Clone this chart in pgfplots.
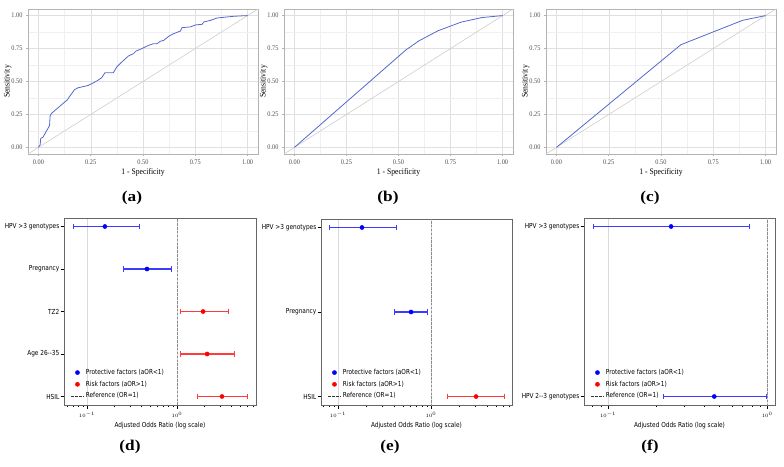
\documentclass[border=0pt]{standalone}
\usepackage{fontspec}
\usepackage{pgfplots}
\pgfplotsset{compat=1.18}
\setmainfont{Liberation Serif}
\newfontfamily\rocfont[FakeStretch=0.9]{Liberation Serif}
\newfontfamily\mplfont[FakeStretch=0.84]{DejaVu Sans}
\newfontfamily\panelfont[FakeStretch=1.15]{Liberation Serif}

\definecolor{roc}{RGB}{84,104,204}
\definecolor{diag}{RGB}{205,205,205}
\definecolor{ggborder}{RGB}{179,179,179}
\definecolor{gggrid}{RGB}{224,224,224}
\definecolor{ggminor}{RGB}{240,240,240}
\definecolor{ggtext}{RGB}{77,77,77}
\definecolor{protline}{RGB}{60,60,255}
\definecolor{riskline}{RGB}{255,60,60}
\definecolor{protmark}{RGB}{0,0,255}
\definecolor{riskmark}{RGB}{255,0,0}

% short legend samples: a centred mark, or a 12pt line
\pgfplotsset{
  legend image code/.code={\draw[mark repeat=2, mark phase=2, #1]
    plot coordinates {(0pt,0pt) (6pt,0pt) (12pt,0pt)};},
}

\pgfplotsset{
  rocaxis/.style={
    scale only axis, height=145pt,
    xmin=-0.05, xmax=1.05, ymin=-0.05, ymax=1.05,
    xtick={0,0.25,0.5,0.75,1}, ytick={0,0.25,0.5,0.75,1},
    minor xtick={0.125,0.375,0.625,0.875},
    minor ytick={0.125,0.375,0.625,0.875},
    grid=both,
    major grid style={gggrid, line width=0.45pt},
    minor grid style={ggminor, line width=0.3pt},
    axis line style={ggborder, line width=0.6pt},
    tick align=outside, tick pos=left,
    major tick length=2pt, minor tick length=0pt,
    tick style={ggborder, line width=0.5pt},
    /pgf/number format/assume math mode=true,
    /pgf/number format/fixed, /pgf/number format/fixed zerofill,
    /pgf/number format/precision=2,
    ticklabel style={font=\rocfont\fontsize{7}{8}\selectfont, text=ggtext},
    xlabel={1 - Specificity}, ylabel={Sensitivity},
    label style={font=\rocfont\fontsize{8.5}{9}\selectfont},
    xlabel style={yshift=3pt},
    ylabel style={yshift=-7pt},
  },
  oraxis/.style={
    scale only axis, y dir=reverse,
    xtick={0.1,1},
    minor xtick={0.02,0.03,0.04,0.05,0.06,0.07,0.08,0.09,0.2,0.3,0.4,0.5,0.6,0.7,0.8,0.9,2,3,4,5,6,7,8,9},
    tick align=outside, tick pos=left,
    major tick length=3.5pt, minor tick length=2pt,
    tick style={black, line width=0.5pt},
    axis line style={black!60, line width=0.6pt},
    xmajorgrids=true,
    major grid style={black!15, line width=0.5pt},
    yticklabel style={font=\mplfont\fontsize{6.9}{8}\selectfont, inner xsep=1pt},
    xticklabel style={font=\fontsize{5.5}{6}\selectfont},
    xlabel={Adjusted Odds Ratio (log scale)},
    xlabel style={font=\mplfont\fontsize{6.9}{8}\selectfont, yshift=2pt},
    legend style={at={(0.015,0.01)}, anchor=south west, draw=none, fill=none,
      font=\mplfont\fontsize{6.9}{8}\selectfont, row sep=1pt,
      inner xsep=4pt, inner ysep=1.5pt},
    legend cell align=left,
  },
  ci prot/.style={protline, line width=1.3pt, mark=|, mark size=2.8pt,
    mark options={line width=0.9pt}, forget plot},
  ci risk/.style={riskline, line width=1.3pt, mark=|, mark size=2.8pt,
    mark options={line width=0.9pt}, forget plot},
  est prot/.style={only marks, mark=*, protmark, mark size=2.1pt, forget plot},
  est risk/.style={only marks, mark=*, riskmark, mark size=2.1pt, forget plot},
  refline/.style={black!45, line width=0.8pt, dash pattern=on 2.6pt off 1.3pt, forget plot},
}

\newcommand{\orlegend}{%
  \addlegendimage{only marks, mark=*, protmark, mark size=2.1pt}
  \addlegendentry{Protective factors (aOR<1)}
  \addlegendimage{only marks, mark=*, riskmark, mark size=2.1pt}
  \addlegendentry{Risk factors (aOR>1)}
  \addlegendimage{black!80, line width=0.8pt, dash pattern=on 2.6pt off 1.3pt}
  \addlegendentry{Reference (OR=1)}%
}

\begin{document}
\begin{tikzpicture}
\useasboundingbox (0,0) rectangle (784pt,466pt);

% ---------- ROC curves ----------
\begin{axis}[rocaxis, at={(28pt,312pt)}, anchor=south west, width=230pt]
  \addplot[diag, line width=0.6pt] coordinates {(-0.05,-0.05) (1.05,1.05)};
  \addplot[roc, line width=0.8pt] coordinates {
    (0,0) (0.008,0.02) (0.011,0.069) (0.021,0.076) (0.053,0.165) (0.056,0.241)
    (0.063,0.259) (0.093,0.30) (0.125,0.343) (0.138,0.36) (0.146,0.38)
    (0.173,0.439) (0.189,0.452) (0.238,0.47) (0.278,0.503) (0.302,0.528)
    (0.318,0.566) (0.358,0.566) (0.374,0.609) (0.398,0.647) (0.43,0.693)
    (0.454,0.711) (0.467,0.731) (0.494,0.749) (0.526,0.774) (0.551,0.787)
    (0.567,0.787) (0.583,0.805) (0.599,0.812) (0.623,0.843) (0.647,0.863)
    (0.679,0.883) (0.687,0.909) (0.727,0.914) (0.751,0.929) (0.783,0.934)
    (0.791,0.952) (0.823,0.964) (0.855,0.982) (0.936,0.995) (1,1)};
\end{axis}

\begin{axis}[rocaxis, at={(284pt,312pt)}, anchor=south west, width=229pt]
  \addplot[diag, line width=0.6pt] coordinates {(-0.05,-0.05) (1.05,1.05)};
  \addplot[roc, line width=0.8pt] coordinates {
    (0,0) (0.536,0.74) (0.6,0.81) (0.69,0.885) (0.8,0.95) (0.9,0.985) (1,1)};
\end{axis}

\begin{axis}[rocaxis, at={(546pt,312pt)}, anchor=south west, width=230pt]
  \addplot[diag, line width=0.6pt] coordinates {(-0.05,-0.05) (1.05,1.05)};
  \addplot[roc, line width=0.8pt] coordinates {
    (0,0) (0.595,0.779) (0.89,0.964) (1,1)};
\end{axis}

% ---------- Forest plots ----------
\begin{axis}[xmode=log, oraxis, at={(64pt,61pt)}, anchor=south west, width=192pt, height=187pt,
  xmin=0.0555, xmax=7.55, ymin=-0.2, ymax=4.2,
  ytick={0,1,2,3,4},
  yticklabels={HPV >3 genotypes, Pregnancy, TZ2, Age 26--35, HSIL}]
  \addplot[refline] coordinates {(1,-1) (1,6)};
  \addplot[ci prot] coordinates {(0.070,0) (0.378,0)};
  \addplot[ci prot] coordinates {(0.251,1) (0.857,1)};
  \addplot[ci risk] coordinates {(1.08,2) (3.69,2)};
  \addplot[ci risk] coordinates {(1.08,3) (4.40,3)};
  \addplot[ci risk] coordinates {(1.67,4) (6.00,4)};
  \addplot[est prot] coordinates {(0.158,0) (0.464,1)};
  \addplot[est risk] coordinates {(1.95,2) (2.16,3) (3.16,4)};
  \orlegend
\end{axis}

\begin{axis}[xmode=log, oraxis, at={(321pt,61pt)}, anchor=south west, width=191pt, height=186pt,
  xmin=0.0656, xmax=7.43, ymin=-0.1, ymax=2.1,
  ytick={0,1,2},
  yticklabels={HPV >3 genotypes, Pregnancy, HSIL}]
  \addplot[refline] coordinates {(1,-1) (1,6)};
  \addplot[ci prot] coordinates {(0.080,0) (0.43,0)};
  \addplot[ci prot] coordinates {(0.40,1) (0.905,1)};
  \addplot[ci risk] coordinates {(1.52,2) (6.10,2)};
  \addplot[est prot] coordinates {(0.181,0) (0.61,1)};
  \addplot[est risk] coordinates {(3.05,2)};
  \orlegend
\end{axis}

\begin{axis}[xmode=log, oraxis, at={(584pt,61pt)}, anchor=south west, width=191pt, height=187pt,
  xmin=0.0706, xmax=1.12, ymin=-0.05, ymax=1.05,
  ytick={0,1},
  yticklabels={HPV >3 genotypes, HPV 2--3 genotypes}]
  \addplot[refline] coordinates {(1,-1) (1,6)};
  \addplot[ci prot] coordinates {(0.0805,0) (0.77,0)};
  \addplot[ci prot] coordinates {(0.222,1) (0.99,1)};
  \addplot[est prot] coordinates {(0.249,0) (0.465,1)};
  \orlegend
\end{axis}

% ---------- Panel letters ----------
\begin{scope}[every node/.style={font=\panelfont\bfseries\fontsize{15}{16}\selectfont}]
  \node at (132pt,268pt) {(a)};
  \node at (388pt,268pt) {(b)};
  \node at (650pt,268pt) {(c)};
  \node at (130pt,19pt) {(d)};
  \node at (390pt,19pt) {(e)};
  \node at (650pt,19pt) {(f)};
\end{scope}
\end{tikzpicture}
\end{document}
